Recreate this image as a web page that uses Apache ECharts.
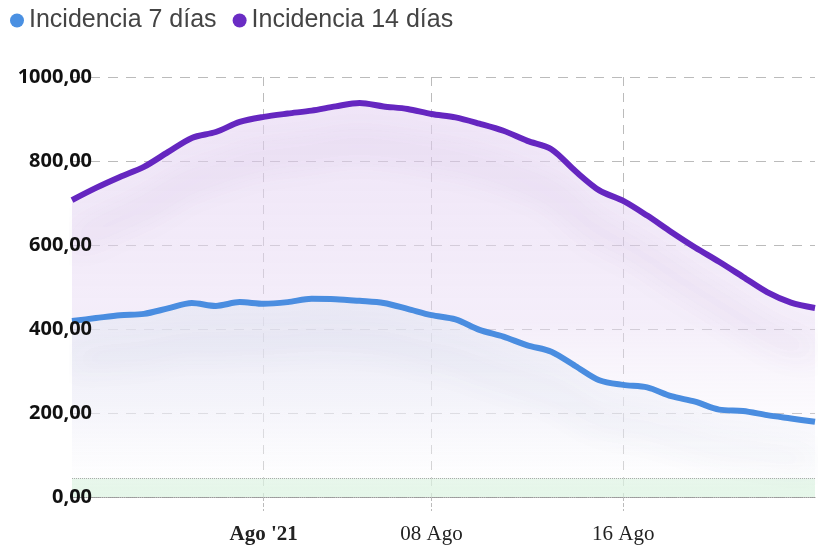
<!DOCTYPE html>
<html>
<head>
<meta charset="utf-8">
<script src="https://cdn.jsdelivr.net/npm/echarts@6/dist/echarts.min.js"></script>
<style>
  html, body { margin: 0; padding: 0; background: #fff; }
  #chart { width: 832px; height: 548px; }
</style>
</head>
<body>
<div id="chart"></div>
<script>
// days shown on the x axis (Jul 24 .. Aug 24, one point per day)
const days = [
  '24 Jul', '25 Jul', '26 Jul', '27 Jul', '28 Jul', '29 Jul', '30 Jul', '31 Jul',
  '01 Ago', '02 Ago', '03 Ago', '04 Ago', '05 Ago', '06 Ago', '07 Ago', '08 Ago',
  '09 Ago', '10 Ago', '11 Ago', '12 Ago', '13 Ago', '14 Ago', '15 Ago', '16 Ago',
  '17 Ago', '18 Ago', '19 Ago', '20 Ago', '21 Ago', '22 Ago', '23 Ago', '24 Ago'
];

const incidencia7 = [
  419, 426, 433, 436, 449, 462, 455, 464,
  460, 464, 472, 471, 467, 462, 448, 433,
  423, 398, 382, 361, 346, 312, 278, 267,
  261, 240, 227, 208, 205, 195, 187, 179
];

const incidencia14 = [
  707, 736, 762, 786, 821, 855, 869, 893,
  905, 913, 920, 930, 938, 930, 924, 912,
  904, 889, 872, 848, 828, 776, 730, 705,
  670, 631, 594, 560, 524, 488, 463, 450
];

// which days get a label on the x axis, and what it says
const tickDays = ['01 Ago', '08 Ago', '16 Ago'];
const tickLabels = ["Ago '21", '08 Ago', '16 Ago'];

const lowBand = [0, 45];

const chart = echarts.init(document.getElementById('chart'));

const isTick = (idx, val) => tickDays.includes(val);
const fmtNum = (v) => v.toFixed(2).replace('.', ',');

const option = {
  animation: false,
  legend: {
    left: 5,
    top: 3,
    icon: 'circle',
    itemWidth: 14,
    itemHeight: 14,
    itemGap: 16,
    data: ['Incidencia 7 días', 'Incidencia 14 días'],
    textStyle: {
      fontFamily: 'Liberation Sans',
      fontSize: 25,
      color: '#444',
      padding: [0, 0, 0, 0],
    },
  },
  grid: { left: 72, right: 17, top: 77, bottom: 51 },
  xAxis: {
    type: 'category',
    boundaryGap: false,
    data: days,
    axisLine: { lineStyle: { color: '#999', type: 'dotted' } },
    axisTick: {
      show: true,
      interval: isTick,
      length: 14,
      lineStyle: { color: '#bbb', type: 'dashed' },
    },
    splitLine: {
      show: true,
      interval: isTick,
      lineStyle: { color: '#bbb', type: [9, 7] },
    },
    axisLabel: {
      interval: isTick,
      margin: 27,
      fontFamily: 'Liberation Serif',
      fontSize: 21,
      color: '#222',
      formatter: (val) => {
        const i = tickDays.indexOf(val);
        if (i === 0) return '{b|' + tickLabels[0] + '}';
        return i >= 0 ? tickLabels[i] : '';
      },
      rich: {
        b: { fontFamily: 'Liberation Serif', fontSize: 21, fontWeight: 'bold', color: '#222' },
      },
    },
  },
  yAxis: [
    {
      type: 'value',
      min: 0,
      max: 1000,
      interval: 200,
      axisLine: { show: false },
      axisTick: { show: false },
      axisLabel: { show: false },
      splitLine: { lineStyle: { color: '#bbb', type: [10, 8] } },
    },
    {
      // labels only, drawn above the series like in the original
      type: 'value',
      position: 'left',
      min: 0,
      max: 1000,
      interval: 200,
      z: 10,
      axisLine: { show: false },
      axisTick: { show: false },
      splitLine: { show: false },
      axisLabel: {
        margin: -20,
        fontFamily: 'Open Sans',
        fontWeight: 'bold',
        fontSize: 20,
        color: '#111',
        padding: [0, 0, 8, 0],
        formatter: fmtNum,
      },
    },
  ],
  series: [
    {
      name: 'Incidencia 7 días',
      type: 'line',
      z: 3,
      data: incidencia7,
      smooth: 0.3,
      symbol: 'none',
      color: '#4a90e2',
      lineStyle: {
        width: 6,
        color: '#4a8de0',
        shadowColor: 'rgba(60,80,130,0.16)',
        shadowBlur: 30,
        shadowOffsetY: 40,
      },
      areaStyle: {
        color: new echarts.graphic.LinearGradient(0, 0, 0, 1, [
          { offset: 0, color: 'rgba(226,229,242,0.9)' },
          { offset: 0.6, color: 'rgba(240,241,249,0.75)' },
          { offset: 1, color: 'rgba(255,255,255,0.3)' },
        ]),
      },
      markArea: {
        silent: true,
        itemStyle: { color: 'rgba(200,236,208,0.6)' },
        data: [[{ yAxis: lowBand[0] }, { yAxis: lowBand[1] }]],
      },
      markLine: {
        silent: true,
        symbol: 'none',
        label: { show: false },
        lineStyle: { color: '#aaa', type: 'dotted', width: 1 },
        data: [{ yAxis: lowBand[1] }],
      },
    },
    {
      name: 'Incidencia 14 días',
      type: 'line',
      z: 2,
      data: incidencia14,
      smooth: 0.3,
      symbol: 'none',
      color: '#6a2cc4',
      lineStyle: {
        width: 6,
        color: '#6526c0',
        shadowColor: 'rgba(100,50,140,0.22)',
        shadowBlur: 30,
        shadowOffsetY: 42,
      },
      areaStyle: {
        color: new echarts.graphic.LinearGradient(0, 0, 0, 1, [
          { offset: 0, color: 'rgba(228,210,242,0.85)' },
          { offset: 0.55, color: 'rgba(234,222,245,0.75)' },
          { offset: 1, color: 'rgba(250,248,252,0)' },
        ]),
      },
    },
  ],
};

chart.setOption(option);
</script>
</body>
</html>
